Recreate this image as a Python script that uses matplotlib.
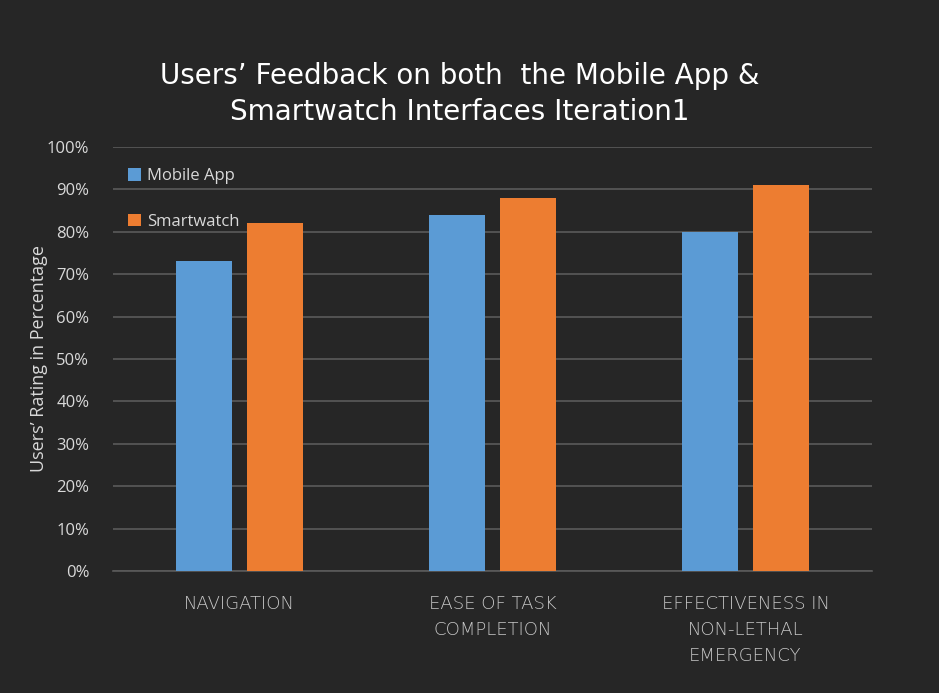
import matplotlib
matplotlib.use("Agg")
import matplotlib.pyplot as plt
import numpy as np

categories = ["NAVIGATION", "EASE OF TASK\nCOMPLETION", "EFFECTIVENESS IN\nNON-LETHAL\nEMERGENCY"]
series_names = ["Mobile App", "Smartwatch"]
mobile_app = [0.73, 0.84, 0.80]
smartwatch = [0.82, 0.88, 0.91]
yticks = [0.0, 0.1, 0.2, 0.3, 0.4, 0.5, 0.6, 0.7, 0.8, 0.9, 1.0]
ytick_labels = ["0%", "10%", "20%", "30%", "40%", "50%", "60%", "70%", "80%", "90%", "100%"]
title = "Users\u2019 Feedback on both  the Mobile App &\nSmartwatch Interfaces Iteration1"
ylabel = "Users\u2019 Rating in Percentage"

BG = "#262626"
BLUE = "#5B9BD5"
ORANGE = "#ED7D31"
GRID = "#5a5a5a"
TXT = "#d9d9d9"

fig = plt.figure(figsize=(9.39, 6.93), dpi=100, facecolor=BG)
ax = fig.add_axes([113/939, 1-571/693, (872-113)/939, (571-147)/693])
ax.set_facecolor(BG)

x = np.arange(len(categories))
w = 0.22
off = 0.14
ax.bar(x - off, mobile_app, w, color=BLUE, label=series_names[0], zorder=3)
ax.bar(x + off, smartwatch, w, color=ORANGE, label=series_names[1], zorder=3)

ax.set_xlim(-0.5, 2.5)
ax.set_ylim(0, 1.0)
ax.set_yticks(yticks)
ax.set_yticklabels(ytick_labels, color=TXT, fontsize=12, family="Open Sans")
ax.tick_params(axis="y", length=0, pad=17)
ax.yaxis.grid(True, color=GRID, linewidth=1.2, zorder=0)
ax.set_xticks(x)
ax.set_xticklabels(categories, color="#c8c8c8", fontsize=13, linespacing=1.6,
                   family="DejaVu Sans", fontweight="light")
ax.tick_params(axis="x", length=0, pad=17)
for s in ["top", "right", "left"]:
    ax.spines[s].set_visible(False)
ax.spines["bottom"].set_color(GRID)
ax.spines["bottom"].set_linewidth(1.2)

ax.set_ylabel(ylabel, color=TXT, fontsize=13, family="Open Sans")
ax.yaxis.set_label_coords((48 - 113) / 759, 0.5)

leg = ax.legend(loc="upper left", bbox_to_anchor=(0.0, 0.985), frameon=False,
                labelspacing=1.75, handlelength=0.75, handleheight=0.75,
                handletextpad=0.4, prop={"family": "Open Sans", "size": 12})
for t in leg.get_texts():
    t.set_color(TXT)

fig.text(0.49, 1-94/693, title, ha="center", va="center", color="white",
         fontsize=20, linespacing=1.4, family="DejaVu Sans")

fig.savefig("out.png", dpi=100, facecolor=BG)
